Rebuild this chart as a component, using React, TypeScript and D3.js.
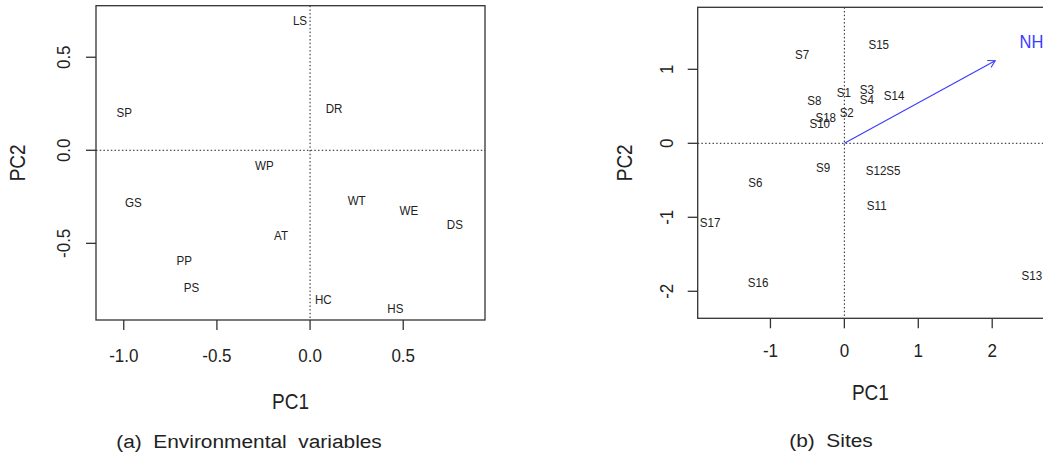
import React from "react";
import * as d3 from "d3";

// ---------- data ----------
const envLabels = ["LS", "SP", "DR", "WP", "GS", "WT", "WE", "DS", "AT", "PP", "PS", "HC", "HS"];
const envPC1 = [-0.054, -0.997, 0.129, -0.245, -0.948, 0.25, 0.53, 0.777, -0.156, -0.675, -0.637, 0.071, 0.458];
const envPC2 = [0.7, 0.206, 0.224, -0.084, -0.278, -0.267, -0.325, -0.4, -0.457, -0.59, -0.737, -0.8, -0.85];

const siteLabels = ["S1", "S2", "S3", "S4", "S5", "S6", "S7", "S8", "S9", "S10", "S11", "S12", "S13", "S14", "S15", "S16", "S17", "S18"];
const sitePC1 = [-0.008, 0.032, 0.303, 0.303, 0.663, -1.204, -0.572, -0.406, -0.288, -0.333, 0.438, 0.429, 2.536, 0.673, 0.465, -1.168, -1.817, -0.252];
const sitePC2 = [0.693, 0.423, 0.73, 0.599, -0.36, -0.523, 1.203, 0.585, -0.324, 0.265, -0.834, -0.37, -1.78, 0.643, 1.338, -1.884, -1.073, 0.351];

const vecLabel = "NH";
const vecEnd = [2.04, 1.116];
const vecLabelPos = [2.53, 1.373];

const envXTicks = [-1.0, -0.5, 0.0, 0.5];
const envYTicks = [-0.5, 0.0, 0.5];
const siteXTicks = [-1, 0, 1, 2];
const siteYTicks = [-2, -1, 0, 1];

const captionA = "(a)  Environmental  variables";
const captionB = "(b)  Sites";

// ---------- style ----------
const FONT = "'Liberation Sans', Arial, sans-serif";
const INK = "#222";
const FRAME = "#333";

// R-style numbers: ASCII hyphen-minus
const fmt1 = (v: number) => d3.format(".1f")(v).replace("\u2212", "-");
const fmt0 = (v: number) => d3.format("d")(v).replace("\u2212", "-");

type TProps = {
  x: number; y: number; size: number; text: string;
  rot?: boolean; sx?: number; sy?: number; fill?: string; anchor?: string;
};
const T = ({ x, y, size, text, rot = false, sx = 1, sy = 1.13, fill = INK, anchor = "middle" }: TProps) => (
  <text
    transform={`translate(${x},${y})${rot ? " rotate(-90)" : ""} scale(${sx},${sy})`}
    fontFamily={FONT}
    fontSize={size}
    fill={fill}
    textAnchor={anchor}
    style={{ whiteSpace: "pre" }}
  >
    {text}
  </text>
);

type PanelProps = {
  xDomain: [number, number]; xRange: [number, number];
  yDomain: [number, number]; yRange: [number, number];
  xTicks: number[]; yTicks: number[]; fmt: (v: number) => string;
  xTickBase: number; yTickBase: number; xTitleBase: number; yTitleBase: number;
  children: (x: d3.ScaleLinear<number, number>, y: d3.ScaleLinear<number, number>) => React.ReactNode;
};

const Panel = (p: PanelProps) => {
  const x = d3.scaleLinear().domain(p.xDomain).range(p.xRange);
  const y = d3.scaleLinear().domain(p.yDomain).range(p.yRange);
  const [x0, x1] = p.xRange;
  const [yb, yt] = p.yRange;
  const tl = 10;
  const dash = "1.5,2.2";
  return (
    <g>
      {/* zero lines */}
      <line x1={x(0)} x2={x(0)} y1={yt} y2={yb} stroke={INK} strokeWidth={1} strokeDasharray={dash} />
      <line x1={x0} x2={x1} y1={y(0)} y2={y(0)} stroke={INK} strokeWidth={1} strokeDasharray={dash} />
      {/* frame */}
      <rect x={x0} y={yt} width={x1 - x0} height={yb - yt} fill="none" stroke={FRAME} strokeWidth={1.3} />
      {/* x axis */}
      {p.xTicks.map((t) => (
        <g key={"x" + t}>
          <line x1={x(t)} x2={x(t)} y1={yb} y2={yb + tl} stroke={FRAME} strokeWidth={1.3} />
          <T x={x(t)} y={p.xTickBase} size={17} text={p.fmt(t)} />
        </g>
      ))}
      {/* y axis */}
      {p.yTicks.map((t) => (
        <g key={"y" + t}>
          <line x1={x0} x2={x0 - tl} y1={y(t)} y2={y(t)} stroke={FRAME} strokeWidth={1.3} />
          <T x={p.yTickBase} y={y(t)} size={17} text={p.fmt(t)} rot />
        </g>
      ))}
      <T x={(x0 + Math.min(x1, 1043)) / 2} y={p.xTitleBase} size={19} text="PC1" sy={1.17} />
      <T x={p.yTitleBase} y={(yt + yb) / 2} size={19} text="PC2" rot sy={1.15} />
      {p.children(x, y)}
    </g>
  );
};

export default function App() {
  const lab = 11.6;
  const labSy = 1.1;
  const off = lab * 0.358 * labSy;
  return (
    <svg
      width={1043}
      height={454}
      viewBox="0 0 1043 454"
      style={{ position: "absolute", left: 0, top: 0, background: "#fff" }}
    >
      <rect x={0} y={0} width={1043} height={454} fill="#fff" />
      <Panel
        xDomain={[-1.149, 0.939]} xRange={[96, 485]}
        yDomain={[-0.912, 0.777]} yRange={[320, 5.7]}
        xTicks={envXTicks} yTicks={envYTicks} fmt={fmt1}
        xTickBase={361.5} yTickBase={70} xTitleBase={408.5} yTitleBase={25}
      >
        {(x, y) =>
          envLabels.map((l, i) => (
            <T key={l} x={x(envPC1[i])} y={y(envPC2[i]) + off} size={lab} sy={labSy} text={l} />
          ))
        }
      </Panel>
      <Panel
        xDomain={[-1.984, 3.12]} xRange={[697.7, 1075]}
        yDomain={[-2.365, 1.838]} yRange={[318.3, 7.3]}
        xTicks={siteXTicks} yTicks={siteYTicks} fmt={fmt0}
        xTickBase={357.3} yTickBase={672.5} xTitleBase={400} yTitleBase={631.5}
      >
        {(x, y) => {
          const ax0 = x(0), ay0 = y(0), ax1 = x(vecEnd[0]), ay1 = y(vecEnd[1]);
          const ang = Math.atan2(ay1 - ay0, ax1 - ax0);
          const hl = 8, ha = Math.PI / 6;
          const h1 = [ax1 - hl * Math.cos(ang - ha), ay1 - hl * Math.sin(ang - ha)];
          const h2 = [ax1 - hl * Math.cos(ang + ha), ay1 - hl * Math.sin(ang + ha)];
          return (
            <g>
              {siteLabels.map((l, i) => (
                <T key={l} x={x(sitePC1[i])} y={y(sitePC2[i]) + off} size={lab} sy={labSy} text={l} />
              ))}
              <line x1={ax0} y1={ay0} x2={ax1} y2={ay1} stroke="#3a3aff" strokeWidth={1.1} />
              <path
                d={`M${h1[0]},${h1[1]}L${ax1},${ay1}L${h2[0]},${h2[1]}`}
                fill="none"
                stroke="#3a3aff"
                strokeWidth={1.1}
              />
              <T
                x={x(vecLabelPos[0])}
                y={y(vecLabelPos[1]) + 16.5 * 0.358 * 1.13}
                size={16.5}
                text={vecLabel}
                fill="#3a3aff"
              />
            </g>
          );
        }}
      </Panel>
      <T x={249} y={447.5} size={18} sx={1.16} sy={1.0} text={captionA} />
      <T x={831} y={447.3} size={18} sx={1.16} sy={1.0} text={captionB} />
    </svg>
  );
}
